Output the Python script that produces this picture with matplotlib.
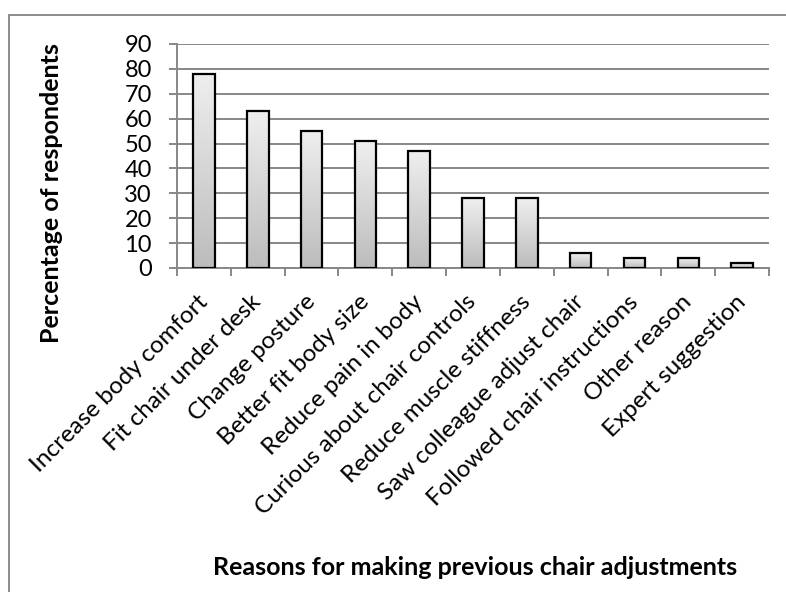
import numpy as np
import matplotlib.pyplot as plt
from matplotlib.patches import Rectangle
from matplotlib.colors import LinearSegmentedColormap

# survey results
reasons = ['Increase body comfort', 'Fit chair under desk', 'Change posture',
           'Better fit body size', 'Reduce pain in body', 'Curious about chair controls',
           'Reduce muscle stiffness', 'Saw colleague adjust chair',
           'Followed chair instructions', 'Other reason', 'Expert suggestion']
percent = [78, 63, 55, 51, 47, 28, 28, 6, 4, 4, 2]
yticks = list(range(0, 100, 10))

plt.rcParams['font.family'] = ['Lato', 'DejaVu Sans']
grey = '#878787'

fig = plt.figure(figsize=(7.86, 5.92), dpi=100)
ax = fig.add_axes([0.2252, 0.5473, 0.7532, 0.3784])

x = np.arange(len(reasons))
bars = ax.bar(x, percent, width=0.4, color='none', edgecolor='black',
              linewidth=1.6, zorder=3)

# vertical grey gradient inside every bar
cmap = LinearSegmentedColormap.from_list('barfill', ['#bcbcbc', '#efefef'])
grad = np.linspace(0, 1, 256).reshape(-1, 1)
for b in bars:
    x0, w, h = b.get_x(), b.get_width(), b.get_height()
    im = ax.imshow(grad, cmap=cmap, origin='lower', aspect='auto',
                   extent=[x0, x0 + w, 0, h], zorder=2)
    im.set_clip_path(b)

ax.set_xlim(-0.5, len(reasons) - 0.5)
ax.set_ylim(0, 90)
ax.set_yticks(yticks)
ax.yaxis.grid(True, color=grey, linewidth=1.4)
ax.set_axisbelow(True)

for s in ['top', 'right']:
    ax.spines[s].set_visible(False)
for s in ['left', 'bottom']:
    ax.spines[s].set_color(grey)
    ax.spines[s].set_linewidth(1.4)

ax.set_xticks(x)
ax.set_xticklabels(reasons, rotation=45, ha='right', va='center',
                   rotation_mode='anchor', fontsize=17.5)
ax.set_xticks(np.arange(-0.5, len(reasons), 1), minor=True)
ax.tick_params(axis='x', which='major', length=0, pad=22)
ax.tick_params(axis='x', which='minor', length=6, width=1.4, color=grey)
ax.tick_params(axis='y', length=6, width=1.4, color=grey, labelsize=17, pad=12)

fig.text(0.066, 0.674, 'Percentage of respondents', rotation=90,
         ha='center', va='center', fontsize=18, fontweight='bold')
fig.text(0.604, 0.041, 'Reasons for making previous chair adjustments',
         ha='center', va='center', fontsize=18, fontweight='bold')

# chart frame
fig.patches.append(Rectangle((9 / 786, -0.1), 1.2, 1.1 - 15 / 592,
                             transform=fig.transFigure, fill=False,
                             edgecolor='#8c8c8c', linewidth=1.4))

fig.savefig('out.png', dpi=100)
